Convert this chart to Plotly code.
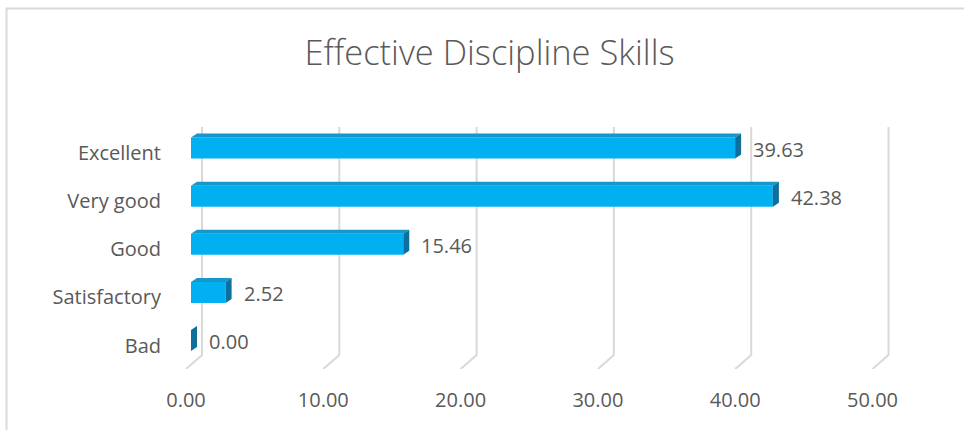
import plotly.graph_objects as go

# ---- data ----
categories = ["Bad", "Satisfactory", "Good", "Very good", "Excellent"]
values = [0.00, 2.52, 15.46, 42.38, 39.63]
x_ticks = [0, 10, 20, 30, 40, 50]
title_text = "Effective Discipline Skills"

# ---- layout geometry (pixels) ----
W, H = 964, 430
L, R, T, B = 180, 900, 127, 369          # plot area edges
x0_px = 191.0                            # pixel where bar value 0 starts
px_per_x = 13.73
y0_px = 340.5                            # pixel of first category bar centre
px_per_y = 48.1

x_min = (L - x0_px) / px_per_x
x_max = (R - x0_px) / px_per_x
y_min = -(B - y0_px) / px_per_y
y_max = (y0_px - T) / px_per_y

half_h = 10.5 / px_per_y                 # half bar thickness
dx = 6.0 / px_per_x                      # depth offset
dy = 4.0 / px_per_y
back_dx = 11.0 / px_per_x                # back wall offset of gridlines
front_dx = -5.0 / px_per_x
back_bottom = -(355 - y0_px) / px_per_y

FRONT = "#00B0F0"
SIDE = "#0E6F9C"
TOP = "#1796C9"
TEXT = "#595959"
FONT = "Open Sans"

ypos = list(range(len(categories)))

fig = go.Figure()

# front faces
fig.add_trace(go.Bar(
    x=values, y=ypos, orientation="h", width=2 * half_h,
    marker=dict(color=FRONT, line=dict(width=0)),
    hoverinfo="skip", showlegend=False,
))

# side and top faces built from values
sx, sy, tx, ty = [], [], [], []
for v, yi in zip(values, ypos):
    sx += [v, v + dx, v + dx, v, v, None]
    sy += [yi - half_h, yi - half_h + dy, yi + half_h + dy, yi + half_h, yi - half_h, None]
    tx += [0, dx, v + dx, v, 0, None]
    ty += [yi + half_h, yi + half_h + dy, yi + half_h + dy, yi + half_h, yi + half_h, None]

fig.add_trace(go.Scatter(x=tx, y=ty, mode="lines", fill="toself", fillcolor=TOP,
                         line=dict(width=0, color=TOP), hoverinfo="skip", showlegend=False))
fig.add_trace(go.Scatter(x=sx, y=sy, mode="lines", fill="toself", fillcolor=SIDE,
                         line=dict(width=0, color=SIDE), hoverinfo="skip", showlegend=False))

# gridlines (back wall vertical + floor slant)
shapes = []
for t in x_ticks:
    path = (f"M {t + back_dx},{y_max} L {t + back_dx},{back_bottom} "
            f"L {t + front_dx},{y_min}")
    shapes.append(dict(type="path", path=path, xref="x", yref="y", layer="below",
                       line=dict(color="#D9D9D9", width=2)))

# chart border
pw, ph = R - L, B - T
shapes.append(dict(type="rect", xref="paper", yref="paper",
                   x0=(6.5 - L) / pw, x1=(975 - L) / pw,
                   y0=(B - 445) / ph, y1=(B - 8.5) / ph,
                   line=dict(color="#D9D9D9", width=2), layer="below"))

# data labels
annotations = []
for v, yi in zip(values, ypos):
    annotations.append(dict(x=v, y=yi, xref="x", yref="y", text=f"{v:.2f}",
                            showarrow=False, xanchor="left", yanchor="middle",
                            xshift=16, yshift=-1,
                            font=dict(family=FONT, size=20, color=TEXT)))

fig.update_layout(
    width=W, height=H,
    margin=dict(l=L, r=W - R, t=T, b=H - B, autoexpand=False),
    paper_bgcolor="white", plot_bgcolor="white",
    title=dict(text=title_text, x=489.5 / W, xref="container", xanchor="center",
               y=1 - 53 / H, yref="container", yanchor="middle",
               font=dict(family=FONT, size=34.5, color=TEXT, weight=300)),
    shapes=shapes, annotations=annotations, showlegend=False,
    xaxis=dict(range=[x_min, x_max], tickvals=x_ticks,
               ticktext=[f"{t:.2f}" for t in x_ticks],
               showgrid=False, zeroline=False, showline=False, ticks="",
               ticklabelstandoff=17, ticklabelshift=-5,
               tickfont=dict(family=FONT, size=20, color=TEXT), fixedrange=True),
    yaxis=dict(range=[y_min, y_max], tickvals=ypos, ticktext=categories,
               showgrid=False, zeroline=False, showline=False, ticks="",
               ticklabelstandoff=18, ticklabelshift=5,
               tickfont=dict(family=FONT, size=20, color=TEXT), fixedrange=True),
)

fig.write_html("out.html", config={"displayModeBar": False},
               post_script="document.body.style.margin='0';document.body.style.overflow='hidden';")
